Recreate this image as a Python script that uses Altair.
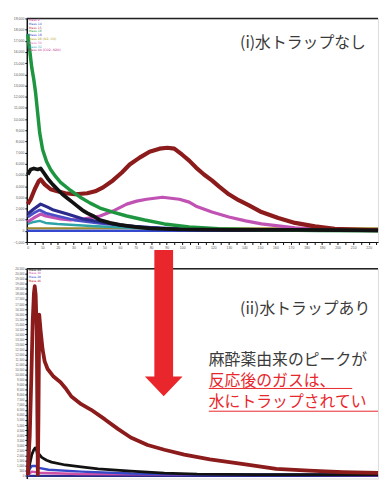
import altair as alt
import pandas as pd

# ---------------- Panel (i): 水トラップなし ----------------
g_x = [0.6, 1.9, 3.2, 4.5, 5.7, 7.0, 8.3, 10.2, 12.7, 15.3, 18.5, 21.7, 28.0, 34.4, 40.8, 47.1, 55.4, 64.3, 75.8, 88.5, 104.5, 123.6, 149, 187, 226]
g_y = [17610, 16110, 14600, 13540, 12300, 10530, 8760, 7260, 6200, 5490, 4870, 4340, 3630, 3010, 2480, 2040, 1680, 1330, 970, 620, 350, 180, 90, 40, 0]

k_x = [0.6, 2.5, 4.5, 7.0, 8.9, 10.8, 13.4, 16.6, 19.7, 22.9, 26.1, 29.3, 32.5, 35.7, 38.9, 42.7, 47.1, 53.5, 59.9, 69.4, 79.0, 98.1, 130, 174.5, 226]
k_y = [5040, 5490, 5580, 5490, 5580, 5220, 4690, 4160, 3720, 3270, 2920, 2570, 2210, 1860, 1590, 1330, 970, 710, 530, 350, 220, 130, 90, 90, 40]

m_x = [0.6, 2.5, 5.1, 7.6, 8.9, 11.5, 15.3, 19.7, 24.8, 31.2, 38.9, 44.0, 49.1, 55.4, 61.2, 66.2, 72.6, 79.0, 85.4, 90.5, 94.9, 100.0, 104.5, 108.9, 114.0, 119.1, 123.6, 130.0, 136.3, 142.7, 151.0, 161.8, 172.6, 185.4, 198.1, 214.7, 226]
m_y = [2390, 2830, 3720, 4430, 4600, 4160, 3720, 3540, 3360, 3270, 3360, 3540, 3890, 4510, 5220, 5930, 6550, 7080, 7350, 7430, 7350, 6810, 6280, 5660, 5040, 4510, 3980, 3270, 2740, 2300, 1680, 1150, 710, 400, 180, 90, 50]

pk_x = [0.6, 4.5, 8.9, 12.1, 15.3, 21.7, 28.0, 36.3, 47.1, 55.4, 64.3, 70.7, 77.1, 87.3, 98.1, 104.5, 108.9, 119.1, 130.0, 140.8, 151.0, 161.8, 172.6, 193.6, 226]
pk_y = [800, 1150, 1500, 1330, 1240, 1060, 970, 1060, 1330, 1770, 2390, 2660, 2830, 3010, 2830, 2570, 2210, 1680, 1240, 890, 620, 440, 270, 90, 40]

nv_x = [0.6, 4.5, 8.9, 13.4, 17.2, 26.1, 36.3, 47.1, 64.3, 85.4, 110.8, 226]
nv_y = [1500, 1950, 2390, 2120, 1860, 1500, 1060, 800, 440, 220, 90, 40]

rb_x = [0.6, 4.5, 8.3, 12.1, 19.7, 30.6, 47.1, 72.6, 110.8, 226]
rb_y = [1240, 1590, 1860, 1590, 1330, 970, 660, 350, 130, 40]

tl_x = [0.6, 4.5, 8.3, 12.1, 19.7, 41.4, 66.2, 98.1, 226]
tl_y = [620, 800, 890, 710, 620, 440, 270, 130, 40]

ol_x = [0.3, 226]
ol_y = [240, 240]

bl_x = [0.3, 226]
bl_y = [0, 0]

leg1_text = ["Mass 2", "Mass 14", "Mass 15", "Mass 16", "Mass 18", "Mass 28 (N2, CO)", "Mass 30", "Mass 32", "Mass 44 (CO2, N2O)"]
leg1_color = ["#d040a0", "#3050c0", "#c03050", "#30a040", "#4040d0", "#b0a020", "#e070c0", "#40b0c0", "#c03090"]
leg1_y = [18820, 18470, 18140, 17850, 17500, 17150, 16760, 16460, 16170]

# ---------------- Panel (ii): 水トラップあり ----------------
m2_x = [0.6, 1.9, 2.9, 3.8, 4.6, 5.1, 5.7, 6.4, 6.8, 7.1, 7.5, 8.0, 8.9, 10.2, 11.5, 13.4, 17.2, 21.7, 24.8, 28.7, 35.0, 41.4, 50.3, 58.6, 66.9, 77.7, 88.5, 101.3, 117.8, 139.5, 160.5, 181.5, 203.2, 226]
m2_y = [50, 3960, 9620, 15280, 18110, 18770, 17920, 14330, 5850, 90, 5850, 15940, 14330, 12450, 11320, 10560, 9810, 9240, 8680, 7830, 7070, 6510, 5560, 4620, 3770, 3020, 2550, 2070, 1600, 1130, 660, 470, 330, 250]

k2_x = [0.6, 1.9, 3.2, 4.5, 5.4, 6.4, 7.1, 7.6, 9.6, 12.7, 15.9, 24.8, 35.0, 45.9, 66.9, 88.5, 109.6, 147.8, 226]
k2_y = [50, 1130, 2070, 2550, 2730, 2450, 1890, 2170, 1790, 1510, 1320, 1040, 850, 660, 420, 240, 140, 90, 90]

b2_x = [0.6, 1.9, 3.2, 5.7, 7.6, 14.0, 35.0, 66.9, 109.6, 226]
b2_y = [50, 660, 940, 940, 750, 570, 380, 190, 90, 90]

p2_x = [0.6, 3.2, 7.6, 33.1, 226]
p2_y = [50, 380, 280, 140, 50]

n2_x = [0.3, 226]
n2_y = [-40, -40]

leg2_text = ["Mass 44", "Mass 30", "Mass 28", "Mass 46"]
leg2_color = ["#111111", "#d050a8", "#3548c8", "#c02020"]
leg2_y = [20353, 20039, 19715, 19323]

title1 = "(i)水トラップなし"
title2 = "(ii)水トラップあり"
note_lines = ["麻酔薬由来のピークが", "反応後のガスは、", "水にトラップされてい"]
note_colors = ["#3a3a3a", "#e8262b", "#e8262b"]
note_x = 117.1
note_y = [11474, 9315, 7255]
underline_x = [117.1, 117.1]
underline_x2 = [209.4, 226.0]
underline_y = [8629, 6372]
arrow_x = [88.1]
arrow_y = [15104]

# ---------------- scales / axes ----------------
XMAX = 226
xs = alt.Scale(domain=[0, XMAX], nice=False, zero=False)
ys1 = alt.Scale(domain=[-1000, 19000], nice=False, zero=False)
ys2 = alt.Scale(domain=[-300, 20500], nice=False, zero=False)

ax1x = alt.Axis(values=list(range(0, 226, 5)), labelExpr="datum.value % 10 == 0 ? datum.label : ''",
                tickSize=2.5, labelFontSize=3.5, labelPadding=1, title=None, grid=False,
                domainColor="#111", tickColor="#111", labelColor="#555", domainWidth=1.2)
ax1y = alt.Axis(values=list(range(-1000, 19001, 1000)), format=",.0f", tickSize=2, labelFontSize=3.5,
                labelPadding=1, title=None, grid=False, domainColor="#111", tickColor="#111",
                labelColor="#555", domainWidth=1.5)
ax2y = alt.Axis(values=list(range(0, 20501, 500)), format=",.0f", tickSize=2, labelFontSize=3,
                labelPadding=1, title=None, grid=False, domainColor="#111", tickColor="#111",
                labelColor="#555", domainWidth=1.5)


def line(x, y, color, width, ys, axx, axy):
    df = pd.DataFrame({"x": x, "y": y, "i": list(range(len(x)))})
    return alt.Chart(df).mark_line(color=color, strokeWidth=width, strokeJoin="round").encode(
        x=alt.X("x:Q", scale=xs, axis=axx),
        y=alt.Y("y:Q", scale=ys, axis=axy),
        order="i:Q",
    )


def top_rule(val, ys, axy):
    return alt.Chart(pd.DataFrame({"y": [val]})).mark_rule(color="#222", strokeWidth=1.5).encode(
        y=alt.Y("y:Q", scale=ys, axis=axy))


def legend(texts, colors, ys_vals, ys, axx, axy, size):
    df = pd.DataFrame({"t": texts, "c": colors, "y": ys_vals, "x": [1.3] * len(texts)})
    return alt.Chart(df).mark_text(align="left", baseline="middle", fontSize=size, font="DejaVu Sans").encode(
        x=alt.X("x:Q", scale=xs, axis=axx), y=alt.Y("y:Q", scale=ys, axis=axy),
        text="t:N", color=alt.Color("c:N", scale=None))


p1_layers = [
    line(bl_x, bl_y, "#3548d0", 2.5, ys1, ax1x, ax1y),
    line(ol_x, ol_y, "#9c8a2a", 2, ys1, ax1x, ax1y),
    line(tl_x, tl_y, "#2ea3a8", 2.5, ys1, ax1x, ax1y),
    line(pk_x, pk_y, "#c052b4", 3.2, ys1, ax1x, ax1y),
    line(rb_x, rb_y, "#4a4fc8", 2.8, ys1, ax1x, ax1y),
    line(nv_x, nv_y, "#2b2b8e", 3.2, ys1, ax1x, ax1y),
    line(m_x, m_y, "#8c1b1b", 4.2, ys1, ax1x, ax1y),
    line(g_x, g_y, "#1e9640", 3.5, ys1, ax1x, ax1y),
    line(k_x, k_y, "#121212", 3.8, ys1, ax1x, ax1y),
    top_rule(19000, ys1, ax1y),
    legend(leg1_text, leg1_color, leg1_y, ys1, ax1x, ax1y, 3.2),
    alt.Chart(pd.DataFrame({"t": [title1], "x": [177.7], "y": [16815]})).mark_text(
        align="center", baseline="middle", fontSize=16, font="Noto Sans CJK JP", color="#3a3a3a").encode(
        x=alt.X("x:Q", scale=xs, axis=ax1x), y=alt.Y("y:Q", scale=ys1, axis=ax1y), text="t:N"),
]
p1 = alt.layer(*p1_layers).properties(width=355, height=226)

ax2x = None
p2_layers = [
    line(n2_x, n2_y, "#2b2b8e", 2.5, ys2, ax2x, ax2y),
    line(p2_x, p2_y, "#d050a8", 2.5, ys2, ax2x, ax2y),
    line(b2_x, b2_y, "#3548c8", 2.5, ys2, ax2x, ax2y),
    line(k2_x, k2_y, "#121212", 2.8, ys2, ax2x, ax2y),
    line(m2_x, m2_y, "#8c1b1b", 3.8, ys2, ax2x, ax2y),
    top_rule(20500, ys2, ax2y),
    legend(leg2_text, leg2_color, leg2_y, ys2, ax2x, ax2y, 3),
    alt.Chart(pd.DataFrame({"t": [title2], "x": [179.1], "y": [16477]})).mark_text(
        align="center", baseline="middle", fontSize=16, font="Noto Sans CJK JP", color="#3a3a3a").encode(
        x=alt.X("x:Q", scale=xs, axis=ax2x), y=alt.Y("y:Q", scale=ys2, axis=ax2y), text="t:N"),
    alt.Chart(pd.DataFrame({"t": note_lines, "c": note_colors, "x": [note_x] * 3, "y": note_y})).mark_text(
        align="left", baseline="middle", fontSize=16, font="Noto Sans CJK JP").encode(
        x=alt.X("x:Q", scale=xs, axis=ax2x), y=alt.Y("y:Q", scale=ys2, axis=ax2y), text="t:N",
        color=alt.Color("c:N", scale=None)),
    alt.Chart(pd.DataFrame({"x": underline_x, "x2": underline_x2, "y": underline_y})).mark_rule(
        color="#e8262b", strokeWidth=1).encode(
        x=alt.X("x:Q", scale=xs, axis=ax2x), x2="x2:Q", y=alt.Y("y:Q", scale=ys2, axis=ax2y)),
    alt.Chart(pd.DataFrame({"x": arrow_x, "y": arrow_y})).mark_point(
        shape="M-0.128,-1L0.128,-1L0.128,0.73L0.257,0.73L0,1L-0.257,0.73L-0.128,0.73Z",
        size=21904, filled=True, opacity=1, color="#e8262b", strokeWidth=0).encode(
        x=alt.X("x:Q", scale=xs, axis=ax2x), y=alt.Y("y:Q", scale=ys2, axis=ax2y)),
]
p2 = alt.layer(*p2_layers).properties(width=355, height=212)

chart = alt.vconcat(p1, p2, spacing=27, bounds="flush").properties(
    padding={"left": 4, "top": 5, "right": 0, "bottom": 0}
).configure_view(stroke=None).configure(background="white")

chart.save("out.html", embed_options={"renderer": "svg", "actions": False})
